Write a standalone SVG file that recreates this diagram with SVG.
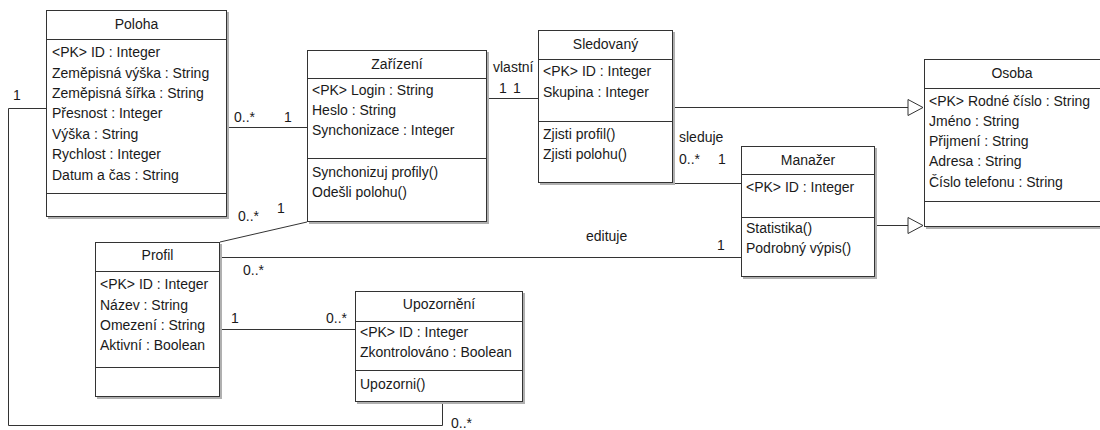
<svg xmlns="http://www.w3.org/2000/svg" width="1100" height="430" viewBox="0 0 1100 430">
<defs>
<style>
.sh{fill:#b0b0b0;stroke:none}
.bx{fill:#fff;stroke:#333;stroke-width:1}
.ln{stroke:#333;stroke-width:1;fill:none}
text{font-family:"Liberation Sans",Arial,sans-serif;font-size:14px;fill:#1a1a1a}
.t{text-anchor:middle}
</style>
<marker id="gen" markerWidth="18" markerHeight="18" refX="16" refY="9" orient="auto" markerUnits="userSpaceOnUse">
<path d="M1,1 L16,9 L1,17 Z" fill="#fff" stroke="#333" stroke-width="1"/>
</marker>
</defs>
<rect width="1100" height="430" fill="#fff"/>

<g id="connectors">
<path class="ln" d="M227,127.5 H307"/>
<path class="ln" d="M487,98.5 H538"/>
<path class="ln" d="M673,107.5 H923" marker-end="url(#gen)"/>
<path class="ln" d="M875,225.5 H923" marker-end="url(#gen)"/>
<path class="ln" d="M673,183.5 H741"/>
<path class="ln" d="M220,257.5 H741"/>
<path class="ln" d="M220,242 L307,222"/>
<path class="ln" d="M220,329.5 H355"/>
<path class="ln" d="M442.5,402 V425.5 H8.5 V108.5 H46"/>
<text x="234" y="122">0..*</text>
<text x="284" y="122">1</text>
<text x="493" y="72">vlastní</text>
<text x="499" y="93">1</text>
<text x="513" y="93">1</text>
<text x="679" y="142">sleduje</text>
<text x="679" y="164">0..*</text>
<text x="718" y="164">1</text>
<text x="586" y="241">edituje</text>
<text x="717" y="250">1</text>
<text x="243" y="275">0..*</text>
<text x="238" y="221">0..*</text>
<text x="277" y="213">1</text>
<text x="231" y="323">1</text>
<text x="326" y="323">0..*</text>
<text x="13" y="100">1</text>
<text x="451" y="428" font-size="13">0..*</text>
</g>

<g id="Poloha">
<rect class="sh" x="48" y="12" width="181" height="207"/>
<rect class="bx" x="46.5" y="10.5" width="180" height="206"/>
<path class="ln" d="M46.5,39.5 H226.5 M46.5,193.5 H226.5"/>
<text class="t" x="136.5" y="29">Poloha</text>
<text x="52" y="57">&lt;PK&gt; ID : Integer</text>
<text x="52" y="78">Zeměpisná výška : String</text>
<text x="52" y="98">Zeměpisná šířka : String</text>
<text x="52" y="118">Přesnost : Integer</text>
<text x="52" y="139">Výška : String</text>
<text x="52" y="159">Rychlost : Integer</text>
<text x="52" y="180">Datum a čas : String</text>
</g>

<g id="Zarizeni">
<rect class="sh" x="309" y="52" width="180" height="172"/>
<rect class="bx" x="307.5" y="50.5" width="179" height="171"/>
<path class="ln" d="M307.5,78.5 H486.5 M307.5,158.5 H486.5"/>
<text class="t" x="397" y="69">Zařízení</text>
<text x="312" y="95">&lt;PK&gt; Login : String</text>
<text x="312" y="115">Heslo : String</text>
<text x="312" y="135">Synchonizace : Integer</text>
<text x="312" y="177">Synchonizuj profily()</text>
<text x="312" y="197">Odešli polohu()</text>
</g>

<g id="Sledovany">
<rect class="sh" x="540" y="32" width="135" height="153"/>
<rect class="bx" x="538.5" y="30.5" width="134" height="152"/>
<path class="ln" d="M538.5,59.5 H672.5 M538.5,121.5 H672.5"/>
<text class="t" x="605.5" y="49">Sledovaný</text>
<text x="543" y="76">&lt;PK&gt; ID : Integer</text>
<text x="543" y="97">Skupina : Integer</text>
<text x="543" y="139">Zjisti profil()</text>
<text x="543" y="159">Zjisti polohu()</text>
</g>

<g id="Osoba">
<rect class="sh" x="926" y="61" width="190" height="168"/>
<rect class="bx" x="924.5" y="59.5" width="190" height="167"/>
<path class="ln" d="M924.5,88.5 H1110 M924.5,201.5 H1110"/>
<text class="t" x="1012" y="78">Osoba</text>
<text x="929" y="106">&lt;PK&gt; Rodné číslo : String</text>
<text x="929" y="126">Jméno : String</text>
<text x="929" y="146">Přijmení : String</text>
<text x="929" y="166">Adresa : String</text>
<text x="929" y="187">Číslo telefonu : String</text>
</g>

<g id="Manazer">
<rect class="sh" x="743" y="148" width="134" height="131"/>
<rect class="bx" x="741.5" y="146.5" width="133" height="130"/>
<path class="ln" d="M741.5,174.5 H874.5 M741.5,217.5 H874.5"/>
<text class="t" x="808" y="165">Manažer</text>
<text x="746" y="192">&lt;PK&gt; ID : Integer</text>
<text x="746" y="233">Statistika()</text>
<text x="746" y="253">Podrobný výpis()</text>
</g>

<g id="Profil">
<rect class="sh" x="97" y="244" width="125" height="155"/>
<rect class="bx" x="95.5" y="242.5" width="124" height="154"/>
<path class="ln" d="M95.5,271.5 H219.5 M95.5,367.5 H219.5"/>
<text class="t" x="157.5" y="260">Profil</text>
<text x="100" y="289">&lt;PK&gt; ID : Integer</text>
<text x="100" y="310">Název : String</text>
<text x="100" y="330">Omezení : String</text>
<text x="100" y="350">Aktivní : Boolean</text>
</g>

<g id="Upozorneni">
<rect class="sh" x="357" y="293" width="168" height="111"/>
<rect class="bx" x="355.5" y="291.5" width="167" height="110"/>
<path class="ln" d="M355.5,321.5 H522.5 M355.5,370.5 H522.5"/>
<text class="t" x="439" y="309">Upozornění</text>
<text x="360" y="337">&lt;PK&gt; ID : Integer</text>
<text x="360" y="357">Zkontrolováno : Boolean</text>
<text x="360" y="389">Upozorni()</text>
</g>
</svg>
